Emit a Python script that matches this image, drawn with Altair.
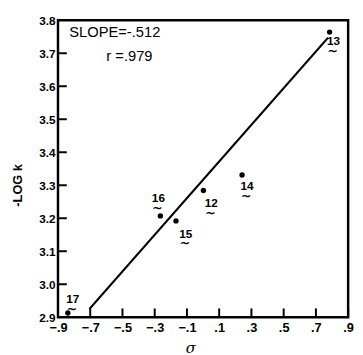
import altair as alt
import pandas as pd

# data
compound = ["12", "13", "14", "15", "16", "17"]
sigma = [0.002, 0.785, 0.242, -0.168, -0.265, -0.839]
neg_log_k = [3.284, 3.764, 3.331, 3.192, 3.207, 2.913]

fit_x = [-0.705, 0.775]
fit_y = [2.925, 3.747]

x_ticks = [-0.9, -0.7, -0.5, -0.3, -0.1, 0.1, 0.3, 0.5, 0.7, 0.9]
y_ticks = [2.9, 3.0, 3.1, 3.2, 3.3, 3.4, 3.5, 3.6, 3.7, 3.8]

# label offsets (pixels) for compound numbers
label_dx = {"12": 8, "13": 4, "14": 5, "15": 10, "16": -2, "17": 5}
label_dy = {"12": 13, "13": 9, "14": 11, "15": 13, "16": -18, "17": -14}

pts = pd.DataFrame({"sigma": sigma, "logk": neg_log_k, "cmp": compound})
fit = pd.DataFrame({"sigma": fit_x, "logk": fit_y})
xt = pd.DataFrame({"v": x_ticks})
yt = pd.DataFrame({"v": y_ticks[1:-1]})

FONT = "Liberation Sans"
xs = alt.Scale(domain=[-0.9, 0.9], nice=False, zero=False)
ys = alt.Scale(domain=[2.9, 3.8], nice=False, zero=False)

xaxis = alt.Axis(values=x_ticks, labelExpr="replace(format(datum.value, '.1f'), '0.', '.')",
                 title="σ", titleFont="DejaVu Serif", titleFontStyle="italic", titleFontSize=15,
                 titleFontWeight="normal", titleY=24, titleX=135, labelPadding=5,
                 labelFontSize=13)
yaxis = alt.Axis(values=y_ticks, format=".1f", labelPadding=3, labelFontSize=12,
                 title="-LOG k", titleFont=FONT, titleFontSize=13,
                 titleFontWeight="bold", titleX=-34, titleY=168)

points = alt.Chart(pts).mark_circle(size=30, color="black", opacity=1).encode(
    x=alt.X("sigma:Q", scale=xs, axis=xaxis),
    y=alt.Y("logk:Q", scale=ys, axis=yaxis),
)

line = alt.Chart(fit).mark_line(color="black", strokeWidth=2).encode(
    x=alt.X("sigma:Q", scale=xs, axis=xaxis), y=alt.Y("logk:Q", scale=ys, axis=yaxis))

xticks = alt.Chart(xt).mark_rule(color="black", strokeWidth=2).encode(
    x=alt.X("v:Q", scale=xs, axis=xaxis), y=alt.value(303), y2=alt.value(294))
yticks = alt.Chart(yt).mark_rule(color="black", strokeWidth=2).encode(
    y=alt.Y("v:Q", scale=ys, axis=yaxis), x=alt.value(0), x2=alt.value(9))

labels = []
for c in compound:
    sub = pts[pts.cmp == c]
    enc = dict(x=alt.X("sigma:Q", scale=xs, axis=xaxis), y=alt.Y("logk:Q", scale=ys, axis=yaxis))
    labels.append(alt.Chart(sub).mark_text(font=FONT, fontSize=12, fontWeight="bold",
                                           dx=label_dx[c], dy=label_dy[c], color="black").encode(
        text="cmp:N", **enc))
    labels.append(alt.Chart(sub).mark_text(font="DejaVu Sans", fontSize=13, fontWeight="bold",
                                           dx=label_dx[c] - 1, dy=label_dy[c] + 10, color="black").encode(
        text=alt.value("~"), **enc))

ann = pd.DataFrame({"sigma": [-0.83, -0.60], "logk": [3.765, 3.69],
                    "t": ["SLOPE=-.512", "r   =.979"]})
annot = alt.Chart(ann).mark_text(font=FONT, fontSize=15, align="left", baseline="middle",
                                 color="black").encode(
    x=alt.X("sigma:Q", scale=xs, axis=xaxis), y=alt.Y("logk:Q", scale=ys, axis=yaxis), text="t:N")

chart = alt.layer(line, points, xticks, yticks, annot, *labels).properties(
    width=296, height=303,
    autosize=alt.AutoSizeParams(type="none"),
    padding={"left": 51, "top": 9, "right": 7, "bottom": 34},
    background="white",
).configure_view(stroke="black", strokeWidth=2.5).configure_axis(
    labelOverlap=False, labelFlush=False, ticks=False, domain=False, grid=False,
    labelFont=FONT, labelFontWeight="bold", labelColor="black", titleColor="black",
)

chart.save("out.html", embed_options={"renderer": "svg", "actions": False})
